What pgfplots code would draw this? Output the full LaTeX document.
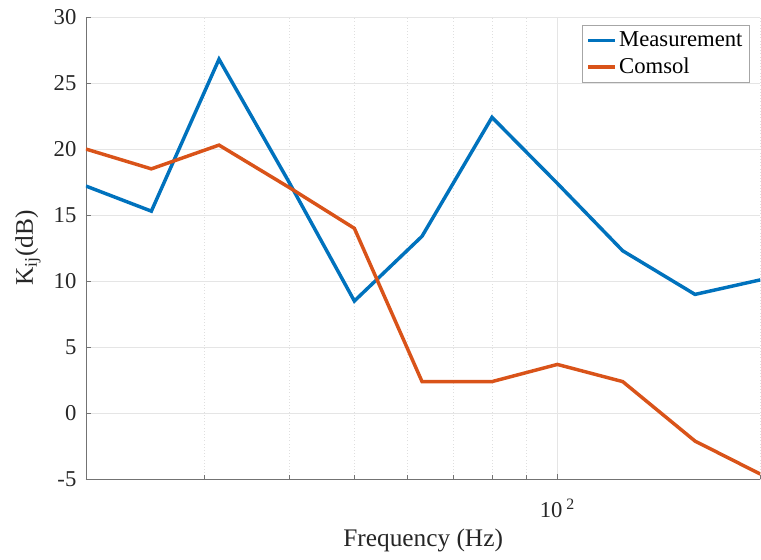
\documentclass[border=0pt]{standalone}
\usepackage{pgfplots}
\pgfplotsset{compat=1.18}
\usepackage{fontspec}
\setmainfont{Liberation Serif}
\definecolor{mblue}{rgb}{0,0.447,0.741}
\definecolor{morange}{rgb}{0.85,0.325,0.098}
\definecolor{axgray}{gray}{0.45}
\begin{document}
\begin{tikzpicture}
\begin{semilogxaxis}[
  scale only axis,
  width=506pt, height=347pt,
  xmin=20, xmax=200, ymin=-5, ymax=30,
  axis x line*=bottom, axis y line*=left,
  axis line style={axgray, line width=0.6pt},
  xtick={100}, xticklabels={10\,\textsuperscript{2}},
  minor xtick={20,30,40,50,60,70,80,90,200},
  ytick={-5,0,5,10,15,20,25,30},
  yticklabels={-5,0,5,10,15,20,25,30},
  tick style={axgray, line width=0.5pt},
  major tick length=4pt, minor tick length=3pt,
  tick align=inside,
  grid=both,
  major grid style={gray!20, line width=0.5pt},
  minor grid style={gray!25, dotted, line width=0.5pt},
  ticklabel style={font=\fontsize{17}{17}\selectfont, text=black!85},
  xticklabel style={yshift=-11pt},
  yticklabel style={xshift=-3.7pt},
  xlabel={Frequency (Hz)},
  ylabel={K\textsubscript{ij}(dB)},
  every axis x label/.style={at={(axis description cs:0.5,-0.1326)}, anchor=center,
    font=\fontsize{19}{19}\selectfont, text=black!85},
  every axis y label/.style={at={(axis description cs:-0.086,0.5)}, rotate=90, anchor=center,
    font=\fontsize{19}{19}\selectfont, text=black!85},
  legend style={at={(0.984,0.983)}, anchor=north east,
    draw=gray!70, line width=0.6pt, inner sep=3pt,
    font=\fontsize{17}{17}\selectfont, row sep=3pt,
    cells={anchor=west}},
  legend image code/.code={\draw[#1, line width=2.6pt] (-0.1cm,0) -- (0.6cm,0);},
]
\addplot[mblue, line width=2.6pt] coordinates {
  (20,17.2) (25,15.3) (31.5,26.8) (40,17.5) (50,8.5) (63,13.4)
  (80,22.4) (100,17.4) (125,12.3) (160,9.0) (200,10.1)};
\addplot[morange, line width=2.6pt] coordinates {
  (20,20.0) (25,18.5) (31.5,20.3) (40,17.1) (50,14.0) (63,2.4)
  (80,2.4) (100,3.7) (125,2.4) (160,-2.1) (200,-4.6)};
\legend{Measurement, Comsol}
\end{semilogxaxis}
\pgfresetboundingbox
\path ([shift={(-64.5pt,-60pt)}]current axis.south west)
  rectangle ([shift={(0.5pt,12.7pt)}]current axis.north east);
\end{tikzpicture}
\end{document}
